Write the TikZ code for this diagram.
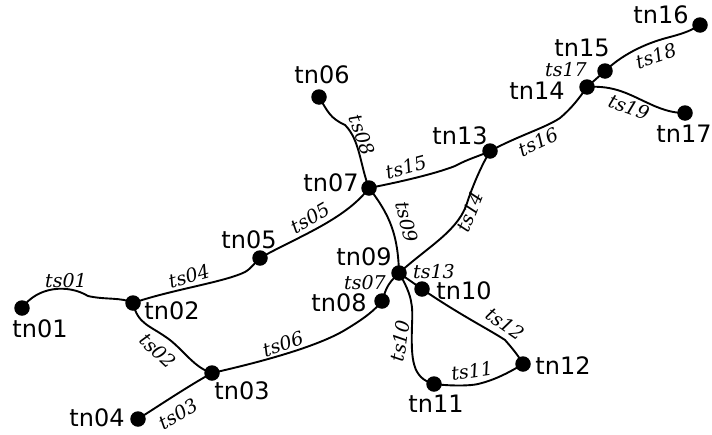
\documentclass[tikz,border=0pt]{standalone}
\usepackage{fontspec}
\setmainfont{DejaVu Sans}
\newfontfamily\edgefont{DejaVu Serif}
\usetikzlibrary{backgrounds}
\begin{document}
\begin{tikzpicture}[x=1pt,y=-1pt,
  dot/.style={circle,fill=black,draw=none,inner sep=0pt,minimum size=15.5pt},
  lab/.style={inner sep=0pt,font=\fontsize{24}{26}\selectfont},
  elab/.style={inner sep=0pt,font=\edgefont\itshape\fontsize{19}{21}\selectfont},
  conn/.style={line width=1.9pt,line join=round,line cap=round}]
\useasboundingbox (0,0) rectangle (712,434);
% nodes
\node[dot] (tn01) at (22,308) {};
\node[dot] (tn02) at (133,303) {};
\node[dot] (tn03) at (212,373) {};
\node[dot] (tn04) at (138,419) {};
\node[dot] (tn05) at (260,258) {};
\node[dot] (tn06) at (319,97) {};
\node[dot] (tn07) at (369,188) {};
\node[dot] (tn08) at (382,301) {};
\node[dot] (tn09) at (399,273) {};
\node[dot] (tn10) at (422,289) {};
\node[dot] (tn11) at (434,384) {};
\node[dot] (tn12) at (523,364) {};
\node[dot] (tn13) at (490,151) {};
\node[dot] (tn14) at (587,87) {};
\node[dot] (tn15) at (605,71) {};
\node[dot] (tn16) at (700,25) {};
\node[dot] (tn17) at (685,113) {};
% node labels
\node[lab] (l01) at (40,329) {tn01};
\node[lab] (l02) at (172,311) {tn02};
\node[lab] (l03) at (242,391) {tn03};
\node[lab] (l04) at (97,418) {tn04};
\node[lab] (l05) at (249,240) {tn05};
\node[lab] (l06) at (322,75) {tn06};
\node[lab] (l07) at (331,183) {tn07};
\node[lab] (l08) at (339,303) {tn08};
\node[lab] (l09) at (364,257) {tn09};
\node[lab] (l10) at (464,291) {tn10};
\node[lab] (l11) at (436,404) {tn11};
\node[lab] (l12) at (563,366) {tn12};
\node[lab] (l13) at (460,136) {tn13};
\node[lab] (l14) at (537,91) {tn14};
\node[lab] (l15) at (582,48) {tn15};
\node[lab] (l16) at (661,15) {tn16};
\node[lab] (l17) at (684,134) {tn17};
% connectors
\begin{scope}[on background layer]
\draw[conn] (tn01.center) .. controls (38,286) and (68,284) .. (88,296) .. controls (105,300) and (122,297) .. (tn02.center);
\draw[conn] (tn02.center) .. controls (138,325) and (150,325) .. (170,340) .. controls (185,352) and (195,368) .. (tn03.center);
\draw[conn] (tn04.center) .. controls (160,405) and (190,385) .. (tn03.center);
\draw[conn] (tn02.center) .. controls (170,290) and (225,282) .. (245,272) .. controls (252,268) and (255,262) .. (tn05.center);
\draw[conn] (tn05.center) .. controls (295,238) and (345,220) .. (tn07.center);
\draw[conn] (tn03.center) .. controls (270,360) and (320,345) .. (345,330) .. controls (365,318) and (375,310) .. (tn08.center);
\draw[conn] (tn08.center) .. controls (386,290) and (386,285) .. (tn09.center);
\draw[conn] (tn06.center) .. controls (328,112) and (330,118) .. (345,125) .. controls (360,140) and (360,165) .. (tn07.center);
\draw[conn] (tn07.center) .. controls (390,215) and (398,235) .. (tn09.center);
\draw[conn] (tn09.center) .. controls (412,295) and (413,305) .. (412,325) .. controls (411,360) and (412,378) .. (tn11.center);
\draw[conn] (tn11.center) .. controls (450,386) and (470,386) .. (478,384) .. controls (495,380) and (510,372) .. (tn12.center);
\draw[conn] (tn10.center) .. controls (460,315) and (490,330) .. (505,340) .. controls (512,348) and (518,355) .. (tn12.center);
\draw[conn] (tn09.center) -- (tn10.center);
\draw[conn] (tn09.center) .. controls (430,245) and (460,230) .. (468,200) .. controls (475,180) and (482,165) .. (tn13.center);
\draw[conn] (tn07.center) .. controls (410,180) and (440,172) .. (455,166) .. controls (470,158) and (480,156) .. (tn13.center);
\draw[conn] (tn13.center) .. controls (520,135) and (545,128) .. (560,118) .. controls (572,108) and (580,97) .. (tn14.center);
\draw[conn] (tn14.center) -- (tn15.center);
\draw[conn] (tn15.center) .. controls (625,52) and (650,42) .. (670,37) .. controls (685,33) and (692,30) .. (tn16.center);
\draw[conn] (tn14.center) .. controls (615,85) and (630,95) .. (650,104) .. controls (665,111) and (675,113) .. (tn17.center);
\end{scope}
% edge labels
\node[elab] (e01) at (66,281) {ts01};
\node[elab,rotate=-43] (e02) at (158,351) {ts02};
\node[elab,rotate=30] (e03) at (178,414) {ts03};
\node[elab,rotate=16] (e04) at (189,276) {ts04};
\node[elab,rotate=30] (e05) at (310,218) {ts05};
\node[elab,rotate=18] (e06) at (283,344) {ts06};
\node[elab] (e07) at (365,283) {ts07};
\node[elab,rotate=-70] (e08) at (362,135) {ts08};
\node[elab,rotate=-78] (e09) at (407,222) {ts09};
\node[elab,rotate=82] (e10) at (400,341) {ts10};
\node[elab,rotate=8] (e11) at (472,371) {ts11};
\node[elab,rotate=-35] (e12) at (505,324) {ts12};
\node[elab] (e13) at (434,272) {ts13};
\node[elab,rotate=68] (e14) at (470,212) {ts14};
\node[elab,rotate=15] (e15) at (406,167) {ts15};
\node[elab,rotate=25] (e16) at (538,142) {ts16};
\node[elab] (e17) at (566,70) {ts17};
\node[elab,rotate=18] (e18) at (656,56) {ts18};
\node[elab,rotate=-20] (e19) at (629,107) {ts19};
\end{tikzpicture}
\end{document}
